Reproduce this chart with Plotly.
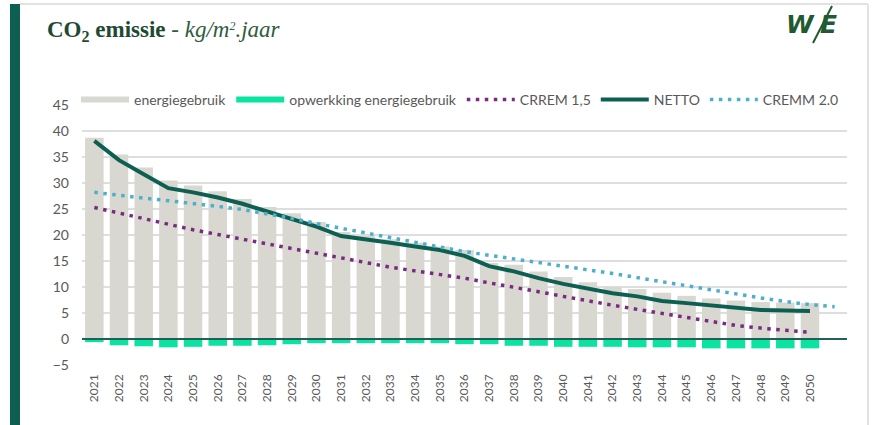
import plotly.graph_objects as go

years = list(range(2021, 2051))
cremm_years = list(range(2021, 2052))

energiegebruik = [38.7, 35.5, 33.0, 30.5, 29.5, 28.4, 26.9, 25.4, 24.2, 22.5,
                  20.6, 19.8, 19.2, 18.5, 17.8, 17.1, 14.6, 14.3, 13.0, 11.9,
                  10.9, 10.0, 9.6, 8.9, 8.3, 7.8, 7.4, 7.1, 7.0, 6.9]
opwekking = [-0.6, -1.2, -1.4, -1.6, -1.5, -1.3, -1.3, -1.2, -1.0, -0.8,
             -0.8, -0.8, -0.8, -0.8, -0.8, -1.0, -1.0, -1.3, -1.3, -1.5,
             -1.5, -1.5, -1.6, -1.6, -1.6, -1.8, -1.8, -1.8, -1.8, -1.8]
netto = [38.1, 34.4, 31.7, 29.0, 28.2, 27.2, 26.0, 24.6, 23.2, 21.6,
         19.8, 19.2, 18.5, 17.8, 17.1, 16.0, 14.0, 13.0, 11.7, 10.6,
         9.7, 8.8, 8.2, 7.3, 6.9, 6.5, 6.1, 5.6, 5.5, 5.4]
crrem = [25.3, 24.2, 23.1, 22.0, 21.0, 20.1, 19.2, 18.2, 17.3, 16.4,
         15.5, 14.6, 13.8, 13.1, 12.4, 11.7, 10.8, 10.0, 9.1, 8.2,
         7.3, 6.5, 5.7, 4.9, 4.1, 3.3, 2.6, 2.1, 1.7, 1.3]
cremm = [28.2, 27.6, 27.1, 26.6, 26.1, 25.5, 24.9, 24.1, 23.2, 22.2,
         21.3, 20.4, 19.5, 18.6, 17.7, 16.8, 16.1, 15.4, 14.7, 14.1,
         13.4, 12.6, 11.8, 11.0, 10.3, 9.5, 8.7, 7.9, 7.2, 6.6, 6.2]

tick_labels = [str(y) for y in years]

GRAY = "#d9d8d0"
GREEN = "#0ae3a2"
PURPLE = "#7a2a82"
TEAL = "#0d5f52"
BLUE = "#4bb0cc"
TXT = "#595959"

W, H = 873, 425
L, R, T, B = 82, 26, 105, 60
PW, PH = W - L - R, H - T - B


def px(x):
    return (x - L) / PW


def py(y):
    return (H - B - y) / PH


fig = go.Figure()

# legend-only proxies for the bar series (wide swatches)
fig.add_trace(go.Scatter(x=[None], y=[None], mode="lines", name="energiegebruik",
                         line=dict(color=GRAY, width=6)))
fig.add_trace(go.Scatter(x=[None], y=[None], mode="lines", name="opwerkking energiegebruik",
                         line=dict(color=GREEN, width=6)))

fig.add_trace(go.Bar(x=years, y=energiegebruik, marker=dict(color=GRAY, line=dict(width=0)),
                     showlegend=False, name="energiegebruik"))
fig.add_trace(go.Bar(x=years, y=opwekking, marker=dict(color=GREEN, line=dict(width=0)),
                     showlegend=False, name="opwerkking energiegebruik"))

fig.add_trace(go.Scatter(x=years, y=crrem, mode="lines", name="CRREM 1,5",
                         line=dict(color=PURPLE, width=3.5, dash="3.5px,5.5px")))
fig.add_trace(go.Scatter(x=years, y=netto, mode="lines", name="NETTO",
                         line=dict(color=TEAL, width=4)))
fig.add_trace(go.Scatter(x=cremm_years, y=cremm, mode="lines", name="CREMM 2.0",
                         line=dict(color=BLUE, width=3.5, dash="3.5px,5.5px")))

shapes = [
    dict(type="line", xref="paper", yref="y", x0=0, x1=1, y0=0, y1=0,
         line=dict(color="#1f6157", width=2), layer="above"),
    dict(type="rect", xref="paper", yref="paper", x0=px(10), x1=px(20), y0=py(425), y1=py(4),
         fillcolor=TEAL, line=dict(width=0), layer="above"),
    dict(type="line", xref="paper", yref="paper", x0=px(20), x1=px(868), y0=py(4), y1=py(4),
         line=dict(color="#e2e2e2", width=2)),
    dict(type="line", xref="paper", yref="paper", x0=px(868), x1=px(868), y0=py(4), y1=py(425),
         line=dict(color="#e2e2e2", width=2)),
    dict(type="line", xref="paper", yref="paper", x0=px(813), x1=px(832), y0=py(43), y1=py(6),
         line=dict(color="#1f5a30", width=2)),
]

annotations = [
    dict(xref="paper", yref="paper", x=px(45), y=py(31), xanchor="left", yanchor="middle",
         showarrow=False,
         text="<b>CO<sub>2</sub> emissie</b><span style='color:#2d5c3e'> - <i>kg/m<span style='font-size:17px'><sup>2</sup></span>.jaar</i></span>",
         font=dict(family="Liberation Serif", size=23, color="#1e4a33")),
    dict(xref="paper", yref="paper", x=px(800), y=py(24), xanchor="center", yanchor="middle",
         showarrow=False, text="<b><i>W</i></b>",
         font=dict(family="DejaVu Sans", size=25, color="#1f5a30")),
    dict(xref="paper", yref="paper", x=px(828), y=py(24), xanchor="center", yanchor="middle",
         showarrow=False, text="<b><i>E</i></b>",
         font=dict(family="DejaVu Sans", size=25, color="#1f5a30")),
]

fig.update_layout(
    width=W, height=H,
    margin=dict(l=L, r=R, t=T, b=B, pad=0),
    paper_bgcolor="white", plot_bgcolor="white",
    barmode="relative", bargap=0.25,
    font=dict(family="Lato", size=13, color=TXT),
    legend=dict(orientation="h", x=px(76), xanchor="left", y=py(84), yanchor="top",
                bgcolor="rgba(0,0,0,0)", itemwidth=48, font=dict(family="Lato", size=14, color=TXT),
                traceorder="normal"),
    shapes=shapes,
    annotations=annotations,
    xaxis=dict(range=[2020.5, 2051.5], tickmode="array", tickvals=years, ticktext=tick_labels,
               tickangle=-90, showgrid=False, zeroline=False, showline=False, ticks="",
               tickfont=dict(family="Lato", size=12, color=TXT), ticklabelstandoff=6),
    yaxis=dict(range=[-5, 45], dtick=5, tick0=0, showgrid=True, gridcolor="#dedede", gridwidth=2,
               zeroline=False, showline=False, ticks="",
               tickfont=dict(family="Lato", size=14, color=TXT), ticklabelstandoff=12),
)

fig.write_html("out.html", config={"displayModeBar": False},
               post_script="document.body.style.margin='0';")
